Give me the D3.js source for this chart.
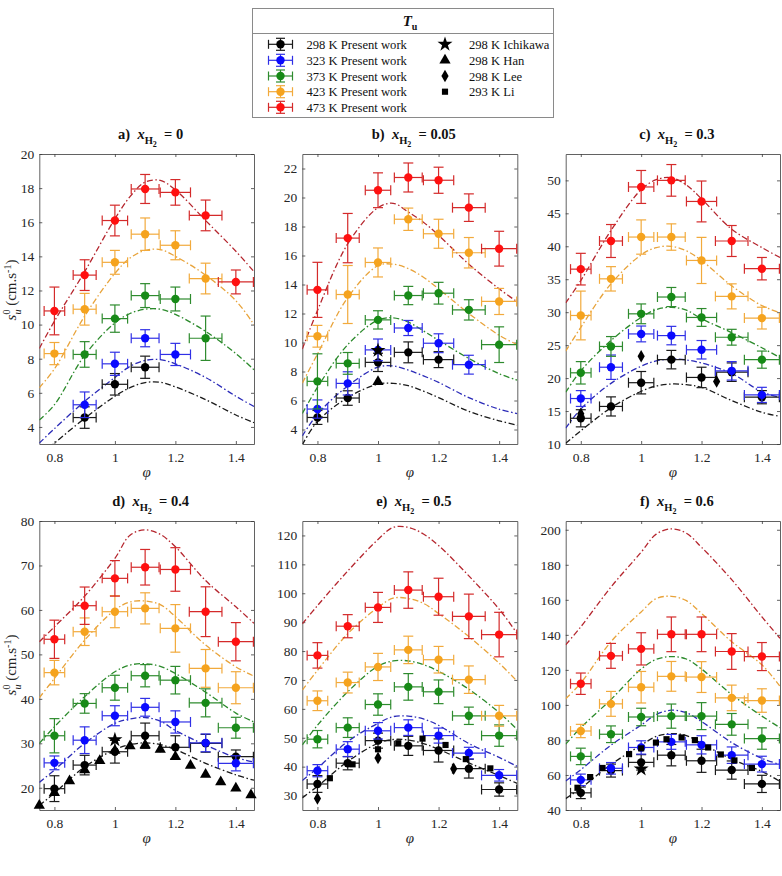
<!DOCTYPE html>
<html><head><meta charset="utf-8">
<script src="https://cdn.jsdelivr.net/npm/d3@7"></script>
<style>
body{margin:0;background:#fff}
svg{display:block}
text{font-family:"Liberation Serif","Times New Roman","DejaVu Serif",serif;}
</style>
</head><body>
<svg id="c" width="782" height="876"></svg>
<script>
// ---------- data ----------
const seriesLabels = ["298 K Present work","323 K Present work","373 K Present work","423 K Present work","473 K Present work"];
const litLabels = ["298 K Ichikawa","298 K Han","298 K Lee","293 K Li"];
const phiPts = [0.8,0.9,1.0,1.1,1.2,1.3,1.4];
const phiErr = [0.034,0.038,0.042,0.046,0.05,0.054,0.058];
const phiCurve = [0.75,0.8,0.9,1.0,1.05,1.1,1.15,1.2,1.3,1.4,1.46];
const xTicks = [0.8,1.0,1.2,1.4];
const panelLetters = ["a)","b)","c)","d)","e)","f)"];
const panelH2 = ["0","0.05","0.3","0.4","0.5","0.6"];
const yDomains = [[3,20],[3,23],[10,54],[15,80],[25,125],[40,205]];
const yTicksA = [4,6,8,10,12,14,16,18,20];
const yTicksB = [4,6,8,10,12,14,16,18,20,22];
const yTicksC = [10,15,20,25,30,35,40,45,50];
const yTicksD = [20,30,40,50,60,70,80];
const yTicksE = [30,40,50,60,70,80,90,100,110,120];
const yTicksF = [40,60,80,100,120,140,160,180,200];

// rows: 298, 323, 373, 423, 473 K
const aS = [
 [null,4.55,6.5,7.5,null,null,null],
 [null,5.3,7.7,9.2,8.25,null,null],
 [null,8.25,10.35,11.7,11.5,9.2,null],
 [8.3,10.9,13.65,15.3,14.65,12.7,null],
 [10.8,12.9,16.1,17.95,17.75,16.4,12.5]];
const aE = [
 [0,0.63,0.63,0.65,0,0,0],
 [0,0.75,0.68,0.5,0.65,0,0],
 [0,0.75,0.8,0.7,0.7,1.3,0],
 [0.65,0.93,0.7,0.95,0.85,0.9,0],
 [1.4,0.9,0.9,0.85,0.75,0.9,0.7]];
const aC = [
 [2.3,3.05,4.5,5.8,6.3,6.6,6.62,6.35,5.6,4.7,4.25],
 [3.05,3.9,5.5,6.9,7.55,7.9,7.95,7.7,6.9,5.8,5.2],
 [4.4,5.3,8.2,10.1,10.65,10.9,10.9,10.6,9.6,8.3,7.35],
 [6.3,7.4,10.5,13.0,13.9,14.35,14.4,14.0,12.9,11.4,10.0],
 [8.6,10.2,13.1,16.2,17.5,18.35,18.45,17.9,16.1,14.3,13.1]];

const bS = [
 [4.83,6.17,8.63,9.32,8.82,null,null],
 [5.41,7.18,9.49,11.0,9.95,8.47,null],
 [7.32,8.56,11.56,13.24,13.4,12.25,9.85],
 [10.43,13.31,15.52,18.5,17.5,16.19,12.83],
 [13.63,17.2,20.5,21.38,21.19,19.3,16.47]];
const bE = [
 [0.48,0.5,0.63,0.72,0.55,0,0],
 [0.63,0.8,0.75,0.52,0.65,0.65,0],
 [1.9,0.75,0.63,0.63,0.75,0.7,1.23],
 [0.75,2.0,1.0,0.77,1.0,1.05,0.9],
 [1.9,1.7,1.2,1.0,0.9,0.95,1.2]];
const bC = [
 [2.95,4.55,6.2,7.13,7.18,7.02,6.65,6.2,5.25,4.6,4.3],
 [3.55,5.05,7.0,8.3,8.38,8.1,7.7,7.25,6.2,5.4,5.1],
 [5.1,6.9,9.85,11.55,11.7,11.4,10.8,10.15,8.9,7.85,7.4],
 [7.2,9.2,13.1,15.3,15.4,15.1,14.5,13.7,12.0,10.5,9.85],
 [9.55,12.2,16.8,19.3,19.6,19.0,18.3,17.4,15.4,13.7,12.8]];

const cS = [
 [13.9,15.7,19.3,22.8,20.1,20.9,17.1],
 [16.9,21.65,26.7,26.45,24.3,21.1,17.45],
 [20.8,24.8,29.75,32.3,29.2,26.2,22.8],
 [29.5,35.06,41.4,41.4,37.85,32.4,29.1],
 [36.53,40.8,49.0,50.0,46.8,40.8,36.6]];
const cE = [
 [1.3,1.45,1.7,1.4,1.55,1.4,1.0],
 [1.2,1.85,1.2,1.4,1.4,1.4,1.15],
 [1.7,1.5,1.5,1.45,1.35,1.2,1.3],
 [3.7,1.85,2.6,2.0,3.5,1.9,1.65],
 [2.4,2.5,2.5,2.4,3.1,2.35,1.7]];
const cC = [
 [10.1,12.0,15.5,18.0,18.8,19.1,19.0,18.6,16.6,14.8,14.2],
 [12.4,15.3,19.2,21.8,22.6,22.9,22.75,22.3,20.7,17.9,17.1],
 [17.85,21.1,25.7,29.2,30.4,30.75,30.3,29.0,26.9,24.6,23.1],
 [24.1,27.7,34.3,38.7,39.8,40.0,39.3,37.85,34.0,31.0,29.9],
 [31.4,34.8,42.4,48.6,50.1,50.4,49.3,47.2,42.6,39.8,38.3]];

const dS = [
 [19.8,25.1,28.1,31.7,29.1,30.0,27.0],
 [25.6,30.7,36.2,38.1,34.8,30.1,25.5],
 [31.7,38.97,42.5,45.2,44.2,39.1,33.5],
 [45.9,55.1,59.6,60.35,55.85,46.85,42.5],
 [53.4,60.95,67.1,69.6,69.1,59.6,52.85]];
const dE = [
 [2.9,2.2,2.55,2.85,2.6,2.0,1.5],
 [1.55,3.0,2.25,2.0,2.5,2.0,1.7],
 [3.85,2.2,2.8,2.5,3.1,3.15,2.35],
 [2.75,3.1,3.6,3.5,5.35,4.25,3.6],
 [4.3,4.2,4.0,4.0,4.9,5.6,4.3]];
const dC = [
 [16.0,18.8,24.7,28.6,29.7,30.1,29.7,28.6,25.5,22.9,21.7],
 [21.2,24.0,30.0,34.5,35.5,35.8,35.0,32.9,29.6,26.8,25.8],
 [30.0,33.7,40.5,46.1,47.6,47.9,47.3,45.7,41.5,36.8,34.8],
 [40.25,44.6,53.2,60.0,61.8,62.0,61.2,58.5,52.1,47.2,45.1],
 [52.85,56.2,63.1,71.6,76.8,78.0,77.0,74.2,66.6,60.7,57.0]];

const eS = [
 [34.0,41.2,49.0,47.2,45.6,39.3,32.1],
 [38.6,46.05,52.4,53.5,50.75,44.7,37.0],
 [49.5,53.5,61.5,67.6,65.9,57.6,50.75],
 [62.8,69.1,74.5,80.4,77.0,70.1,57.6],
 [78.5,88.6,95.1,101.1,98.8,92.0,85.7]];
const eE = [
 [2.9,2.3,2.6,3.3,4.0,3.25,2.3],
 [2.1,2.6,2.85,2.7,2.6,2.0,2.0],
 [3.0,3.4,3.7,4.6,4.1,3.0,3.7],
 [3.4,3.6,4.7,4.75,4.6,4.75,3.6],
 [4.4,4.0,5.2,6.3,6.4,7.7,7.7]];
const eC = [
 [29.2,33.2,41.8,48.1,49.4,49.2,48.0,46.0,41.3,36.9,34.2],
 [35.2,39.5,48.7,55.0,57.3,57.5,56.5,54.3,48.0,43.2,40.1],
 [47.5,54.3,65.9,74.8,76.6,76.6,75.3,73.0,66.8,58.7,52.8],
 [66.5,73.3,86.0,95.1,98.3,98.2,96.5,93.0,85.0,75.8,69.5],
 [89.4,95.7,107.7,118.6,122.8,122.8,120.5,116.5,106.0,94.5,86.0]];

const fS = [
 [49.8,62.5,67.2,71.3,68.1,62.8,54.9],
 [57.2,63.8,75.7,78.9,77.2,71.3,66.2],
 [70.6,83.25,93.1,93.6,93.6,88.9,80.8],
 [85.1,100.6,110.1,116.3,115.9,104.0,102.5],
 [112.1,128.0,132.0,140.3,140.3,130.5,127.6]];
const fE = [
 [3.3,3.7,4.4,6.1,6.6,5.2,4.9],
 [3.3,3.3,3.8,4.25,5.2,4.7,4.5],
 [4.7,4.75,5.0,6.9,7.7,6.2,6.1],
 [3.8,7.1,9.0,8.5,8.8,7.3,6.7],
 [6.1,7.1,9.2,9.9,9.9,10.2,8.0]];
const fC = [
 [46.5,52.5,66.0,77.0,82.0,83.6,82.5,78.0,69.0,62.0,56.3],
 [56.5,63.0,77.0,88.5,94.5,97.0,95.5,90.5,78.5,69.5,66.0],
 [77.6,87.0,103.1,120.5,126.0,127.6,126.2,120.5,105.9,93.6,87.0],
 [103.5,112.5,136.1,153.1,160.7,162.0,159.5,152.2,136.1,122.9,110.6],
 [134.3,144.6,167.3,187.2,197.5,200.5,198.0,190.0,171.5,150.3,138.0]];

// literature data [phi, S]
const bIchikawa = [[1.0,9.45]];
const bHan = [[1.0,7.3]];
const cLee = [[0.8,14.6],[1.0,23.3],[1.25,19.5]];
const dIchikawa = [[1.0,30.8]];
const dHan = [[0.75,16.0],[0.8,18.9],[0.85,21.5],[0.9,24.0],[0.95,26.1],[1.0,28.4],[1.05,29.4],[1.1,29.6],[1.15,28.6],[1.2,27.0],[1.25,25.0],[1.3,23.0],[1.35,21.3],[1.4,19.9],[1.45,18.4]];
const eLee = [[0.8,29.0],[1.0,43.0],[1.25,39.3]];
const eLi = [[0.841,36.0],[0.916,40.8],[1.0,46.0],[1.067,48.1],[1.147,49.7],[1.223,47.5],[1.29,42.6],[1.371,39.4]];
const fIchikawa = [[1.0,63.4]];
const fLi = [[0.789,52.7],[0.831,58.8],[0.872,64.0],[0.96,71.9],[1.0,75.2],[1.049,78.5],[1.084,80.4],[1.134,81.4],[1.178,79.9],[1.222,75.7],[1.264,71.7],[1.309,68.3],[1.367,64.0]];

// ---------- styles ----------
const ptColor = ["#000000","#0a0aff","#178a17","#f5a31e","#ff1010"];
const barColor = ["#1a1a1a","#3030e6","#2e8b2e","#f2aa3c","#d42a2a"];
const curveColor = ["#1a1a1a","#2b2bb8","#2b8a2b","#e8a33a","#b5262e"];
const symType = [d3.symbolStar, d3.symbolTriangle, d3.symbolDiamond, d3.symbolSquare];
const symSize = [70, 55, 45, 38];

const svg = d3.select("#c");
const colX = [39.3, 302.3, 565.7], colW = [214.7, 215, 214.3];
const rowY = [154, 521], rowH = [290, 289];
const FONT = "'Liberation Serif','Times New Roman','DejaVu Serif',serif";

const panels = [
 {S:aS,E:aE,C:aC,yt:yTicksA,lit:[]},
 {S:bS,E:bE,C:bC,yt:yTicksB,lit:[[0,bIchikawa],[1,bHan]]},
 {S:cS,E:cE,C:cC,yt:yTicksC,lit:[[2,cLee]]},
 {S:dS,E:dE,C:dC,yt:yTicksD,lit:[[0,dIchikawa],[1,dHan]]},
 {S:eS,E:eE,C:eC,yt:yTicksE,lit:[[2,eLee],[3,eLi]]},
 {S:fS,E:fE,C:fC,yt:yTicksF,lit:[[0,fIchikawa],[3,fLi]]}
];

function errMark(g, cx, cy, xl, xr, yt, yb, col, pcol, cap) {
  const s = g.append("g").attr("stroke", col).attr("stroke-width", 1.2).attr("fill","none");
  s.append("line").attr("x1",cx).attr("x2",cx).attr("y1",yt).attr("y2",yb);
  s.append("line").attr("x1",cx-cap).attr("x2",cx+cap).attr("y1",yt).attr("y2",yt);
  s.append("line").attr("x1",cx-cap).attr("x2",cx+cap).attr("y1",yb).attr("y2",yb);
  s.append("line").attr("x1",xl).attr("x2",xr).attr("y1",cy).attr("y2",cy);
  s.append("line").attr("x1",xl).attr("x2",xl).attr("y1",cy-cap).attr("y2",cy+cap);
  s.append("line").attr("x1",xr).attr("x2",xr).attr("y1",cy-cap).attr("y2",cy+cap);
  g.append("circle").attr("cx",cx).attr("cy",cy).attr("r",4.2).attr("fill",pcol);
}

panels.forEach((p, i) => {
  const col = i % 3, row = Math.floor(i / 3);
  const x0 = colX[col], y0 = rowY[row], w = colW[col], h = rowH[row];
  const x = d3.scaleLinear().domain([0.75, 1.46]).range([x0, x0 + w]);
  const y = d3.scaleLinear().domain(yDomains[i]).range([y0 + h, y0]);
  const g = svg.append("g");

  g.append("clipPath").attr("id","clip"+i).append("rect")
    .attr("x",x0).attr("y",y0).attr("width",w).attr("height",h);

  const styleAxis = sel => {
    sel.attr("font-family", null);
    sel.selectAll("path,line").attr("stroke","#3a3a3a").attr("stroke-width",0.8);
    sel.selectAll("text").attr("fill","#262626").style("font-family",FONT).style("font-size","13.5px");
  };
  g.append("g").attr("transform",`translate(0,${y0+h})`)
    .call(d3.axisBottom(x).tickValues(xTicks).tickSizeInner(-3).tickSizeOuter(0).tickPadding(8).tickFormat(d=>String(d)))
    .call(styleAxis);
  g.append("g").attr("transform",`translate(0,${y0})`)
    .call(d3.axisTop(x).tickValues(xTicks).tickSizeInner(-3).tickSizeOuter(0).tickFormat(""))
    .call(styleAxis);
  g.append("g").attr("transform",`translate(${x0},0)`)
    .call(d3.axisLeft(y).tickValues(p.yt).tickSizeInner(-3).tickSizeOuter(0).tickPadding(5).tickFormat(d=>String(d)))
    .call(styleAxis);
  g.append("g").attr("transform",`translate(${x0+w},0)`)
    .call(d3.axisRight(y).tickValues(p.yt).tickSizeInner(-3).tickSizeOuter(0).tickFormat(""))
    .call(styleAxis);

  // model curves
  const line = d3.line().x(d=>x(d[0])).y(d=>y(d[1])).curve(d3.curveCatmullRom.alpha(0.5));
  const cg = g.append("g").attr("clip-path",`url(#clip${i})`);
  p.C.forEach((arr, k) => {
    cg.append("path").datum(phiCurve.map((ph, j) => [ph, arr[j]]))
      .attr("d", line).attr("fill","none").attr("stroke",curveColor[k])
      .attr("stroke-width",1.3).attr("stroke-dasharray","6,2.5,1.5,2.5");
  });

  // present work points
  p.S.forEach((arr, k) => {
    arr.forEach((v, j) => {
      if (v === null) return;
      const e = p.E[k][j], ph = phiPts[j], xe = phiErr[j];
      errMark(g, x(ph), y(v), x(ph-xe), x(ph+xe), y(v+e), y(v-e), barColor[k], ptColor[k], 5);
    });
  });

  // literature markers
  p.lit.forEach(([t, pts]) => {
    const path = d3.symbol().type(symType[t]).size(symSize[t])();
    pts.forEach(d => {
      g.append("path").attr("d", path).attr("fill","#000")
        .attr("transform",`translate(${x(d[0])},${y(d[1])})`);
    });
  });

  // title
  const cx = x0 + w/2 + 4;
  const t = g.append("text").attr("x",cx).attr("y",y0-15).attr("text-anchor","middle")
    .style("font-weight","bold").style("font-size","14.5px").attr("fill","#111");
  t.append("tspan").text(panelLetters[i] + "\u00a0\u00a0");
  t.append("tspan").style("font-style","italic").text("x");
  t.append("tspan").style("font-size","10.5px").attr("dy",4.5).text("H");
  t.append("tspan").style("font-size","8px").attr("dy",3).text("2");
  t.append("tspan").attr("dy",-7.5).text("\u00a0\u00a0= " + panelH2[i]);

  // x label
  g.append("text").attr("x",x0 + w/2).attr("y",y0+h+33).attr("text-anchor","middle")
    .style("font-style","italic").style("font-size","15px").attr("fill","#262626").text("\u03c6");

  // y label
  if (col === 0) {
    const cy = row === 0 ? 290 : 665;
    const yl = g.append("text").attr("transform",`translate(16,${cy}) rotate(-90)`)
      .attr("text-anchor","middle").style("font-size","15px").attr("fill","#262626");
    yl.append("tspan").style("font-style","italic").text("s");
    yl.append("tspan").style("font-size","10px").attr("dy",-6).text("0");
    yl.append("tspan").style("font-size","10px").style("font-style","italic").attr("dx",-5).attr("dy",11).text("u");
    yl.append("tspan").attr("dy",-5).text("\u00a0(cm.s");
    yl.append("tspan").style("font-size","10px").attr("dy",-5).text("-1");
    yl.append("tspan").attr("dy",5).text(")");
  }
});

// ---------- legend ----------
const lg = svg.append("g");
lg.append("rect").attr("x",252.5).attr("y",8.5).attr("width",301).attr("height",109)
  .attr("fill","#fff").attr("stroke","#8a8a8a").attr("stroke-width",1);
lg.append("line").attr("x1",252.5).attr("x2",553.5).attr("y1",33.5).attr("y2",33.5)
  .attr("stroke","#8a8a8a").attr("stroke-width",1);
const ht = lg.append("text").attr("x",410).attr("y",26).attr("text-anchor","middle")
  .style("font-weight","bold").style("font-size","15px").attr("fill","#111");
ht.append("tspan").style("font-style","italic").text("T");
ht.append("tspan").style("font-size","10px").attr("dy",4).text("u");

const rowsY = [44.3, 60.3, 76.0, 91.7, 107.3];
seriesLabels.forEach((lab, k) => {
  const cy = rowsY[k];
  errMark(lg, 280.5, cy, 268.5, 292.5, cy-6, cy+6, barColor[k], ptColor[k], 4.5);
  lg.append("text").attr("x",306.5).attr("y",cy+4.5).style("font-size","12.6px")
    .attr("fill","#111").text(lab);
});
litLabels.forEach((lab, k) => {
  const cy = rowsY[k];
  lg.append("path").attr("d", d3.symbol().type(symType[k]).size(symSize[k])())
    .attr("fill","#000").attr("transform",`translate(445,${cy})`);
  lg.append("text").attr("x",469).attr("y",cy+4.5).style("font-size","12.6px")
    .attr("fill","#111").text(lab);
});
</script>
</body></html>
